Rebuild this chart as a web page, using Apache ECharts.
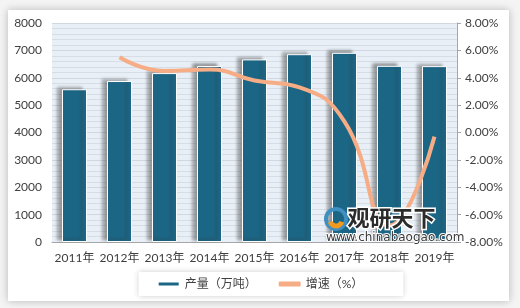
<!DOCTYPE html>
<html><head><meta charset="utf-8">
<script src="https://cdn.jsdelivr.net/npm/echarts@6/dist/echarts.min.js"></script>
<style>html,body{margin:0;padding:0;background:#f2f2f2;}#c{width:520px;height:308px;}</style>
</head><body><div id="c"></div>
<script>
const categories = ['2011年','2012年','2013年','2014年','2015年','2016年','2017年','2018年','2019年'];
const output = [5580, 5880, 6170, 6430, 6670, 6860, 6910, 6435, 6425];
const growth = ['-', 5.5, 4.5, 4.6, 3.8, 3.3, 0.8, -6.8, -0.3];
const leftTicks = [0, 1000, 8000];
const rightTicks = [-8, 2, 8];

const FONT = 'Lato, "Noto Sans CJK SC", sans-serif';
const chart = echarts.init(document.getElementById('c'), null, {renderer:'canvas'});
chart.setOption({
  animation:false,
  backgroundColor:'#f4f4f4',
  graphic:[
    {type:'rect', shape:{x:8,y:10,width:501,height:291}, style:{fill:'#ffffff', shadowBlur:8, shadowColor:'rgba(0,0,0,0.25)'}, z:-10},
    {type:'text', left:346, top:205, style:{text:'观研天下', font:'bold 22px "Noto Sans CJK SC"', fill:'#2b2b2b', stroke:'#ffffff', lineWidth:3}, z:20},
    {type:'text', left:325, top:231, style:{text:'www.chinabaogao.com', font:'12px "DejaVu Sans", sans-serif', fill:'#3a3a3a', stroke:'#ffffff', lineWidth:2}, z:20},
    {type:'circle', shape:{cx:336,cy:219,r:10}, style:{fill:'none', stroke:'#3f8fc0', lineWidth:4}, z:20},
    {type:'arc', shape:{cx:336,cy:220,r:6,startAngle:0.3,endAngle:2.8}, style:{fill:'none', stroke:'#f29a1e', lineWidth:5}, z:21}
  ],
  grid:{left:52, right:63, top:23, bottom:66, show:true, backgroundColor:'#e8eff6', borderWidth:0},
  legend:{
    bottom:12, left:'center',
    backgroundColor:'#ffffff', shadowBlur:6, shadowColor:'rgba(0,0,0,0.2)',
    padding:[6,40,6,18], itemGap:22, itemWidth:22, itemHeight:5,
    textStyle:{fontSize:12, color:'#404040', fontFamily:FONT},
    data:[{name:'产量（万吨）', icon:'rect'}, {name:'增速（%）', icon:'roundRect'}]
  },
  xAxis:{
    type:'category', data:categories,
    axisLine:{show:true, lineStyle:{color:'#a6a6a6'}},
    axisTick:{show:false},
    axisLabel:{fontSize:12, color:'#404040', fontFamily:FONT, margin:10, interval:0}
  },
  yAxis:[
    {type:'value', min:leftTicks[0], max:leftTicks[2], interval:leftTicks[1],
     axisLine:{show:false}, axisTick:{show:false},
     axisLabel:{fontSize:12, color:'#404040', fontFamily:FONT, margin:10, formatter:v=>String(v)},
     splitLine:{show:true, lineStyle:{color:'#d0d7de', width:1}},
     minorTick:{show:false, splitNumber:5},
     minorSplitLine:{show:true, lineStyle:{color:'#d6dde4', width:1}}},
    {type:'value', min:rightTicks[0], max:rightTicks[2], interval:rightTicks[1],
     position:'right',
     axisLine:{show:true, lineStyle:{color:'#a6a6a6'}},
     axisTick:{show:true, inside:false, length:4, lineStyle:{color:'#a6a6a6'}},
     axisLabel:{fontSize:12, color:'#404040', fontFamily:FONT, margin:8, formatter:v=>v.toFixed(2)+'%'},
     splitLine:{show:false}}
  ],
  series:[
    {name:'产量（万吨）', type:'bar', data:output, barWidth:25, yAxisIndex:0,
     itemStyle:{color:'#1b6585', borderColor:'#ffffff', borderWidth:1,
       shadowColor:'rgba(60,60,60,0.5)', shadowBlur:3, shadowOffsetX:-5, shadowOffsetY:-2}},
    {name:'增速（%）', type:'line', data:growth, yAxisIndex:1, smooth:true, symbol:'none',
     lineStyle:{color:'#f6ad86', width:4}, itemStyle:{color:'#f6ad86'}, z:5}
  ]
});
</script></body></html>
